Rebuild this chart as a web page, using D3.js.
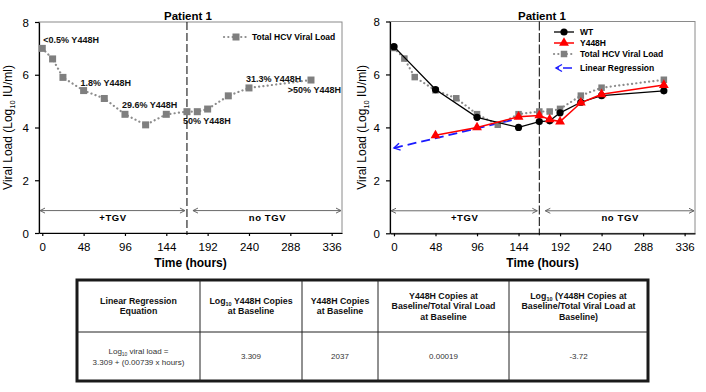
<!DOCTYPE html>
<html>
<head>
<meta charset="utf-8">
<script src="https://cdn.jsdelivr.net/npm/d3@7"></script>
<style>
  html, body { margin: 0; padding: 0; background: #fff; }
  svg { display: block; font-family: "Liberation Sans", Arial, sans-serif; }
</style>
</head>
<body>
<svg id="chart"></svg>
<script>
// ───────────────── DATA ─────────────────
const TOTAL_HOURS = [0, 12, 24, 48, 72, 96, 120, 144, 168, 180, 192, 216, 240, 312];
const TOTAL_LOAD = [7.0, 6.6, 5.9, 5.4, 5.1, 4.5, 4.1, 4.5, 4.6, 4.6, 4.7, 5.2, 5.5, 5.8];

const WT_HOURS = [0, 48, 96, 144, 168, 180, 192, 216, 240, 312];
const WT_LOAD = [7.05, 5.43, 4.38, 4.0, 4.22, 4.25, 4.55, 4.95, 5.2, 5.38];

const MUT_HOURS = [48, 96, 144, 168, 180, 192, 216, 240, 312];
const MUT_LOAD = [3.7, 4.0, 4.4, 4.45, 4.3, 4.22, 4.93, 5.25, 5.6];

const REG_HOURS = [0, 142];
const REG_LOAD = [3.22, 4.32];

const TGV_END = 168;
const ARROW_LEVEL = 0.85;

const X_TICKS = [0, 48, 96, 144, 192, 240, 288, 336];
const Y_TICKS = [0, 2, 4, 6, 8];

const NOTE_HOURS = [0, 48, 96, 168, 240, 312];
const NOTE_TEXT = ["<0.5% Y448H", "1.8% Y448H", "29.6% Y448H", "50% Y448H", "31.3% Y448H", ">50% Y448H"];

const TABLE_HEAD = [
  ["Linear Regression", "Equation"],
  ["Log_{10} Y448H Copies", "at Baseline"],
  ["Y448H Copies", "at Baseline"],
  ["Y448H Copies at", "Baseline/Total Viral Load", "at Baseline"],
  ["Log_{10} (Y448H Copies at", "Baseline/Total Viral Load at", "Baseline)"]
];
const TABLE_BODY = [
  ["Log_{10} viral load =", "3.309 + (0.00739 x hours)"],
  ["3.309"],
  ["2037"],
  ["0.00019"],
  ["-3.72"]
];

const zip = (xs, ys) => xs.map((h, i) => ({ h: h, v: ys[i] }));
const total = zip(TOTAL_HOURS, TOTAL_LOAD);
const wt = zip(WT_HOURS, WT_LOAD);
const mut = zip(MUT_HOURS, MUT_LOAD);
const reg = zip(REG_HOURS, REG_LOAD);

// ───────────────── SVG ─────────────────
const W = 706, H = 392;
const svg = d3.select("#chart").attr("width", W).attr("height", H);

const defs = svg.append("defs");
defs.append("marker")
  .attr("id", "tgvArrow")
  .attr("viewBox", "-6 -4 8 8")
  .attr("markerWidth", 8).attr("markerHeight", 8)
  .attr("markerUnits", "userSpaceOnUse")
  .attr("orient", "auto-start-reverse")
  .append("path")
  .attr("d", "M-5,-2.5 L0,0 L-5,2.5")
  .attr("fill", "none").attr("stroke", "#666").attr("stroke-width", 1);

defs.append("marker")
  .attr("id", "regArrow")
  .attr("viewBox", "-8 -5 10 10")
  .attr("markerWidth", 10).attr("markerHeight", 10)
  .attr("markerUnits", "userSpaceOnUse")
  .attr("orient", "auto-start-reverse")
  .append("path")
  .attr("d", "M-6,-3.5 L0,0 L-6,3.5")
  .attr("fill", "none").attr("stroke", "#1a1aff").attr("stroke-width", 1.4);

// text with "_{..}" subscripts
function richText(sel, str, size) {
  const parts = str.split(/_\{(.*?)\}/);
  parts.forEach((p, i) => {
    if (!p) return;
    if (i % 2 === 1) {
      sel.append("tspan").attr("dy", size * 0.25).style("font-size", (size * 0.62) + "px").text(p);
    } else {
      const t = sel.append("tspan").text(p);
      if (i > 0) t.attr("dy", -size * 0.25);
    }
  });
}

const trianglePath = d3.symbol().type(d3.symbolTriangle).size(42)();

// ───────────────── PANEL ─────────────────
function panel(opt) {
  const x = d3.scaleLinear().domain(opt.xDomain).range([opt.left, opt.right]);
  const y = d3.scaleLinear().domain([0, 8]).range([opt.bottom, opt.top]);
  const g = svg.append("g");

  // frame
  g.append("rect")
    .attr("x", opt.left).attr("y", opt.top)
    .attr("width", opt.right - opt.left).attr("height", opt.bottom - opt.top)
    .attr("fill", "none").attr("stroke", "#8a8a8a").attr("stroke-width", 1);

  // axes
  const xAxis = g.append("g")
    .attr("transform", `translate(0,${opt.bottom})`)
    .call(d3.axisBottom(x).tickValues(X_TICKS).tickSize(3).tickSizeOuter(0).tickPadding(7));
  xAxis.selectAll("text").attr("fill", "#000").style("font-size", "11.5px");
  xAxis.selectAll("line,path").attr("stroke", "#000").attr("stroke-width", 1.2);

  const yAxis = g.append("g")
    .attr("transform", `translate(${opt.left},0)`)
    .call(d3.axisLeft(y).tickValues(Y_TICKS).tickSize(4).tickSizeOuter(0).tickPadding(6));
  yAxis.selectAll("text").attr("fill", "#000").style("font-size", "11.5px").attr("dy", "0.36em");
  yAxis.selectAll("line,path").attr("stroke", "#000").attr("stroke-width", 1.2);

  // titles
  g.append("text")
    .attr("x", opt.titleX).attr("y", 20)
    .attr("text-anchor", "middle")
    .style("font-size", "11.5px").style("font-weight", "700")
    .text("Patient 1");

  g.append("text")
    .attr("x", (opt.left + opt.right) / 2).attr("y", 267)
    .attr("text-anchor", "middle")
    .style("font-size", "12px").style("font-weight", "700")
    .text("Time (hours)");

  const yt = g.append("text")
    .attr("transform", `translate(${opt.yTitleX},${(opt.top + opt.bottom) / 2}) rotate(-90)`)
    .attr("text-anchor", "middle")
    .style("font-size", "12px");
  richText(yt, "Viral Load (Log_{10} IU/ml)", 12);

  // TGV split
  g.append("line")
    .attr("x1", x(TGV_END)).attr("x2", x(TGV_END))
    .attr("y1", opt.top).attr("y2", opt.bottom + 2)
    .attr("stroke", "#000").attr("stroke-width", 1)
    .attr("stroke-dasharray", opt.splitDash);

  const ay = y(ARROW_LEVEL);
  g.append("line")
    .attr("x1", opt.left + 1).attr("x2", x(TGV_END) - 2)
    .attr("y1", ay).attr("y2", ay)
    .attr("stroke", "#444").attr("stroke-width", 0.8)
    .attr("marker-start", "url(#tgvArrow)").attr("marker-end", "url(#tgvArrow)");
  g.append("line")
    .attr("x1", x(TGV_END) + 6).attr("x2", opt.right - 1)
    .attr("y1", ay).attr("y2", ay)
    .attr("stroke", "#444").attr("stroke-width", 0.8)
    .attr("marker-start", "url(#tgvArrow)").attr("marker-end", "url(#tgvArrow)");

  g.append("text")
    .attr("x", (opt.left + x(TGV_END)) / 2).attr("y", ay + 10)
    .attr("text-anchor", "middle")
    .style("font-size", "9.5px").style("font-weight", "700").style("letter-spacing", "0.6px")
    .text("+TGV");
  g.append("text")
    .attr("x", (x(TGV_END) + opt.right) / 2 + 3).attr("y", ay + 10)
    .attr("text-anchor", "middle")
    .style("font-size", "9.5px").style("font-weight", "700").style("letter-spacing", "0.6px")
    .text("no TGV");

  return { g: g, x: x, y: y };
}

function drawTotal(p, sq) {
  const line = d3.line().x(d => p.x(d.h)).y(d => p.y(d.v));
  p.g.append("path")
    .datum(total)
    .attr("d", line)
    .attr("fill", "none").attr("stroke", "#8c8c8c")
    .attr("stroke-width", 2.2).attr("stroke-linecap", "round")
    .attr("stroke-dasharray", "0.1 4.2");
  p.g.selectAll(".sq")
    .data(total)
    .join("rect")
    .attr("class", "sq")
    .attr("x", d => p.x(d.h) - sq / 2).attr("y", d => p.y(d.v) - sq / 2)
    .attr("width", sq).attr("height", sq)
    .attr("fill", "#7f7f7f");
}

// ───────────────── LEFT PANEL ─────────────────
const left = panel({
  left: 39, right: 342, top: 22, bottom: 233,
  xDomain: [-3.8, 348], titleX: 188, yTitleX: 12, splitDash: "8,3"
});
drawTotal(left, 7);

const NOTE_OFFSET = [[1, -5], [-3, -5], [-3, -6], [-4, 12], [-3, -6], [30, 13]];
left.g.selectAll(".note")
  .data(NOTE_HOURS)
  .join("text")
  .attr("class", "note")
  .attr("x", (h, i) => left.x(h) + NOTE_OFFSET[i][0])
  .attr("y", (h, i) => left.y(TOTAL_LOAD[TOTAL_HOURS.indexOf(h)]) + NOTE_OFFSET[i][1])
  .attr("text-anchor", (h, i) => i === 5 ? "end" : "start")
  .style("font-size", "9px").style("font-weight", "700").attr("fill", "#111")
  .text((h, i) => NOTE_TEXT[i]);

// left legend
left.g.append("line")
  .attr("x1", 224).attr("x2", 248).attr("y1", 37).attr("y2", 37)
  .attr("stroke", "#8c8c8c").attr("stroke-width", 2.2)
  .attr("stroke-linecap", "round").attr("stroke-dasharray", "0.1 4.2");
left.g.append("rect")
  .attr("x", 232.5).attr("y", 33.5).attr("width", 7).attr("height", 7)
  .attr("fill", "#7f7f7f");
left.g.append("text")
  .attr("x", 252).attr("y", 40)
  .style("font-size", "8.5px").style("font-weight", "700")
  .text("Total HCV Viral Load");

// ───────────────── RIGHT PANEL ─────────────────
const right = panel({
  left: 390, right: 695, top: 21.5, bottom: 233.3,
  xDomain: [-4.6, 348], titleX: 542, yTitleX: 366, splitDash: "9,2.5"
});

// regression
right.g.append("path")
  .datum(reg)
  .attr("d", d3.line().x(d => right.x(d.h)).y(d => right.y(d.v)))
  .attr("fill", "none").attr("stroke", "#1a1aff").attr("stroke-width", 1.8)
  .attr("stroke-dasharray", "9,5")
  .attr("marker-start", "url(#regArrow)");

drawTotal(right, 6.5);

const lineFn = d3.line().x(d => right.x(d.h)).y(d => right.y(d.v));

right.g.append("path")
  .datum(wt)
  .attr("d", lineFn)
  .attr("fill", "none").attr("stroke", "#000").attr("stroke-width", 1.3);
right.g.selectAll(".wt")
  .data(wt)
  .join("circle")
  .attr("class", "wt")
  .attr("cx", d => right.x(d.h)).attr("cy", d => right.y(d.v))
  .attr("r", 3.6).attr("fill", "#000");

right.g.append("path")
  .datum(mut)
  .attr("d", lineFn)
  .attr("fill", "none").attr("stroke", "#ff0000").attr("stroke-width", 1.5);
right.g.selectAll(".mut")
  .data(mut)
  .join("path")
  .attr("class", "mut")
  .attr("transform", d => `translate(${right.x(d.h)},${right.y(d.v)})`)
  .attr("d", trianglePath)
  .attr("fill", "#ff0000");

// right legend
const LEGEND = ["WT", "Y448H", "Total HCV Viral Load", "Linear Regression"];
const legendY = [32, 43, 54, 68];
const lg = right.g.append("g");
LEGEND.forEach((name, i) => {
  const ly = legendY[i];
  if (i === 0) {
    lg.append("line").attr("x1", 554).attr("x2", 574).attr("y1", ly).attr("y2", ly)
      .attr("stroke", "#000").attr("stroke-width", 1.3);
    lg.append("circle").attr("cx", 564).attr("cy", ly).attr("r", 3.6).attr("fill", "#000");
  } else if (i === 1) {
    lg.append("line").attr("x1", 554).attr("x2", 574).attr("y1", ly).attr("y2", ly)
      .attr("stroke", "#ff0000").attr("stroke-width", 1.5);
    lg.append("path").attr("transform", `translate(564,${ly})`).attr("d", trianglePath).attr("fill", "#ff0000");
  } else if (i === 2) {
    lg.append("line").attr("x1", 554).attr("x2", 574).attr("y1", ly).attr("y2", ly)
      .attr("stroke", "#8c8c8c").attr("stroke-width", 2.2)
      .attr("stroke-linecap", "round").attr("stroke-dasharray", "0.1 4.2");
    lg.append("rect").attr("x", 560.75).attr("y", ly - 3.25).attr("width", 6.5).attr("height", 6.5)
      .attr("fill", "#7f7f7f");
  } else {
    lg.append("line").attr("x1", 556).attr("x2", 574).attr("y1", ly).attr("y2", ly)
      .attr("stroke", "#1a1aff").attr("stroke-width", 1.6)
      .attr("stroke-dasharray", "3,4,9")
      .attr("marker-start", "url(#regArrow)");
  }
  lg.append("text")
    .attr("x", 580).attr("y", ly + 3)
    .style("font-size", "8.5px").style("font-weight", "700")
    .text(name);
});

// ───────────────── TABLE ─────────────────
const COL_EDGES = [77, 200, 302, 378, 509, 648];
const tTop = 280, tMid = 332, tBot = 381;
const tg = svg.append("g");

tg.append("rect")
  .attr("x", COL_EDGES[0]).attr("y", tTop)
  .attr("width", COL_EDGES[5] - COL_EDGES[0]).attr("height", tBot - tTop)
  .attr("fill", "#fff").attr("stroke", "#1a1a1a").attr("stroke-width", 3);

tg.append("line")
  .attr("x1", COL_EDGES[0]).attr("x2", COL_EDGES[5])
  .attr("y1", tMid).attr("y2", tMid)
  .attr("stroke", "#222").attr("stroke-width", 1);

COL_EDGES.slice(1, 5).forEach(cx => {
  tg.append("line")
    .attr("x1", cx).attr("x2", cx).attr("y1", tTop).attr("y2", tBot)
    .attr("stroke", "#222").attr("stroke-width", 1);
});

function cell(lines, i, y0, y1, bold, size, lh) {
  const cx = (COL_EDGES[i] + COL_EDGES[i + 1]) / 2;
  const cy = (y0 + y1) / 2;
  const start = cy - (lines.length - 1) * lh / 2 + size * 0.35;
  lines.forEach((ln, k) => {
    const t = tg.append("text")
      .attr("x", cx).attr("y", start + k * lh)
      .attr("text-anchor", "middle")
      .attr("fill", bold ? "#111" : "#333")
      .style("font-size", size + "px")
      .style("font-weight", bold ? "700" : "400");
    richText(t, ln, size);
  });
}

TABLE_HEAD.forEach((lines, i) => cell(lines, i, tTop, tMid, true, 8.8, 10.5));
TABLE_BODY.forEach((lines, i) => cell(lines, i, tMid, tBot, false, 8, 11));
</script>
</body>
</html>
